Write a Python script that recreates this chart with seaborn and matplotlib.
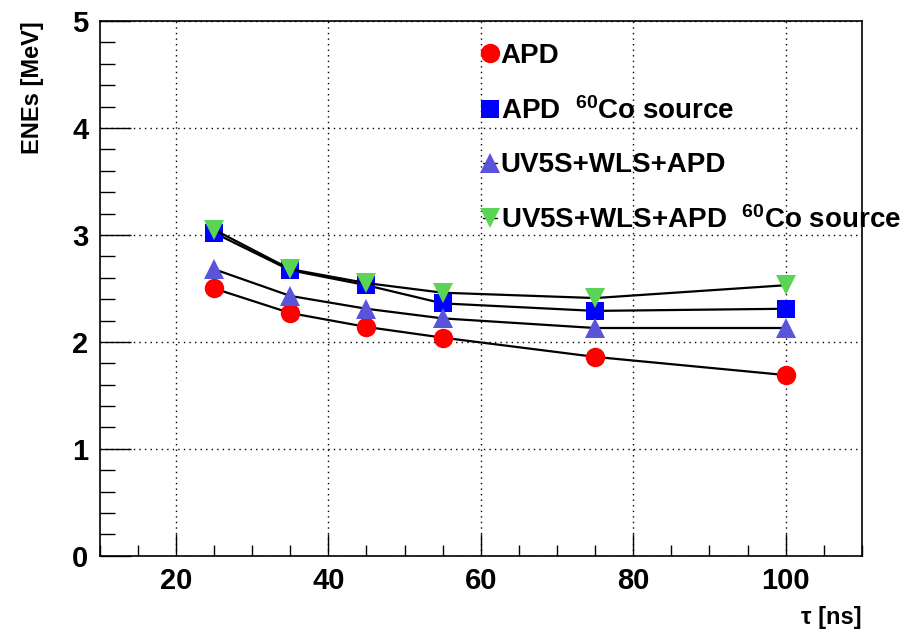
import matplotlib
matplotlib.use("Agg")
import matplotlib.pyplot as plt
from matplotlib.lines import Line2D
from matplotlib.ticker import MultipleLocator
import seaborn as sns
import pandas as pd

# shaping times [ns]
tau = [25, 35, 45, 55, 75, 100]

# equivalent noise energies [MeV]
apd = [2.50, 2.27, 2.14, 2.04, 1.86, 1.69]
apd_co = [3.02, 2.67, 2.53, 2.36, 2.29, 2.31]
wls_apd = [2.68, 2.43, 2.31, 2.22, 2.13, 2.13]
wls_apd_co = [3.05, 2.68, 2.55, 2.46, 2.41, 2.53]

labels = ["APD", r"APD  $^{\mathbf{60}}$Co source", "UV5S+WLS+APD",
          r"UV5S+WLS+APD  $^{\mathbf{60}}$Co source"]

sns.set_theme(style="white")
plt.rcParams["font.family"] = ["Liberation Sans", "DejaVu Sans"]
plt.rcParams["font.weight"] = "bold"
plt.rcParams["text.color"] = "black"
plt.rcParams["axes.labelcolor"] = "black"
plt.rcParams["xtick.color"] = "black"
plt.rcParams["ytick.color"] = "black"
plt.rcParams["mathtext.fontset"] = "custom"
plt.rcParams["mathtext.rm"] = "Liberation Sans:bold"
plt.rcParams["mathtext.bf"] = "Liberation Sans:bold"
plt.rcParams["mathtext.default"] = "bf"

fig = plt.figure(figsize=(9.14, 6.36), dpi=100)
ax = fig.add_axes([0.109, 0.126, 0.834, 0.841])

series = [
    (apd, "o", "#FF0000", 14),
    (apd_co, "s", "#0000FF", 12.5),
    (wls_apd, "^", "#5954D9", 14),
    (wls_apd_co, "v", "#59D454", 14),
]

handles = []
for (vals, mk, col, ms), lab in zip(series, labels):
    df = pd.DataFrame({"tau": tau, "ene": vals})
    sns.lineplot(data=df, x="tau", y="ene", ax=ax, color="black", lw=1.6,
                 marker=mk, markersize=ms, markerfacecolor=col,
                 markeredgecolor=col, markeredgewidth=0, zorder=3)
    handles.append(Line2D([], [], color="black", lw=1, marker=mk,
                          markersize=ms, markerfacecolor=col,
                          markeredgecolor=col, markeredgewidth=0))

ax.set_xlim(10, 110)
ax.set_ylim(0, 5)
ax.xaxis.set_major_locator(MultipleLocator(20))
ax.xaxis.set_minor_locator(MultipleLocator(5))
ax.yaxis.set_major_locator(MultipleLocator(1))
ax.yaxis.set_minor_locator(MultipleLocator(0.2))
ax.tick_params(axis="both", which="both", direction="in", top=False, right=False,
               left=True, bottom=True, labelsize=21, pad=8, color="black",
               labelcolor="black")
ax.tick_params(axis="x", which="major", length=16, width=1)
ax.tick_params(axis="x", which="minor", length=8, width=1)
ax.tick_params(axis="y", which="major", length=22, width=1)
ax.tick_params(axis="y", which="minor", length=11, width=1)
for lbl in ax.get_xticklabels() + ax.get_yticklabels():
    lbl.set_fontweight("bold")

ax.grid(True, which="major", color="black", linestyle=(0, (1, 3)), lw=1)
for sp in ax.spines.values():
    sp.set_color("black")
    sp.set_linewidth(1.2)

ax.set_xlabel("τ [ns]", fontsize=17, fontweight="bold", loc="right", labelpad=8,
              color="black")
ax.set_ylabel("ENEs [MeV]", fontsize=17, fontweight="bold", loc="top", labelpad=20,
              color="black")

leg = ax.legend(handles, labels, loc="upper left", bbox_to_anchor=(0.478, 0.995),
                frameon=False, fontsize=20, handlelength=0.5, handletextpad=0.12,
                labelspacing=1.0, borderpad=0.2)
for t in leg.get_texts():
    t.set_fontweight("bold")
    t.set_color("black")

fig.savefig("out.png", dpi=100)
